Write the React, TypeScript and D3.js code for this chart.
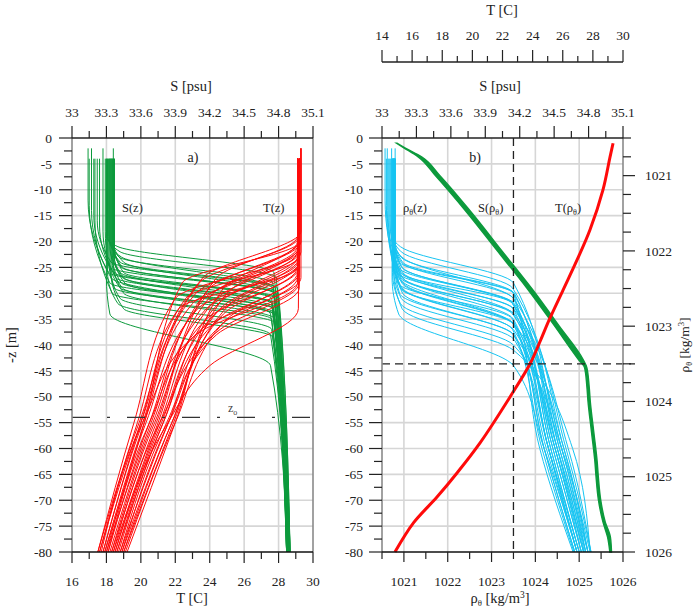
import React from "react";
import * as d3 from "d3";

const FONT = "'Liberation Serif', 'Times New Roman', Times, serif";
const GREEN = "#0c9a3c";
const RED = "#ff0a0a";
const CYAN = "#17c4f2";
const GRID = "#d6d6d6";
const AXIS_GRAY = "#8a8a8a";

// tick labels
const S_LABELS = [33, 33.3, 33.6, 33.9, 34.2, 34.5, 34.8, 35.1];
const T_LABELS_BOTTOM = [16, 18, 20, 22, 24, 26, 28, 30];
const T_LABELS_TOP = [14, 16, 18, 20, 22, 24, 26, 28, 30];
const RHO_LABELS = [1021, 1022, 1023, 1024, 1025, 1026];
const DEPTH_LABELS = [0, 5, 10, 15, 20, 25, 30, 35, 40, 45, 50, 55, 60, 65, 70, 75, 80];

const Z0 = 54; // z_o depth [m]
const RHO_REF = 1023.5; // reference density

// S(z) profiles: [dTop, S0, dMixedBottom, dKnee, SKnee, dHaloBottom, SHaloBottom, S80]
const S_PROFILES = [
  [2, 33.14, 12, 26, 33.32, 31, 34.74, 34.88],
  [4, 33.15, 13, 28, 33.33, 33, 34.75, 34.87],
  [2, 33.17, 14, 27, 33.34, 34, 34.73, 34.89],
  [4, 33.19, 15, 25, 33.33, 30, 34.76, 34.88],
  [4, 33.2, 16, 30, 33.35, 35, 34.74, 34.87],
  [4, 33.22, 16, 24, 33.34, 29, 34.75, 34.9],
  [4, 33.24, 17, 26, 33.36, 31, 34.77, 34.89],
  [2, 33.27, 18, 27, 33.38, 32, 34.74, 34.88],
  [4, 33.29, 18, 29, 33.37, 34, 34.76, 34.87],
  [4, 33.3, 19, 21, 33.4, 26, 34.76, 34.88],
  [4, 33.31, 19, 22, 33.42, 27, 34.78, 34.89],
  [4, 33.32, 19, 23, 33.41, 28, 34.75, 34.88],
  [4, 33.33, 20, 23, 33.43, 29, 34.77, 34.9],
  [4, 33.34, 20, 24, 33.42, 29, 34.79, 34.88],
  [4, 33.35, 20, 25, 33.44, 30, 34.76, 34.87],
  [4, 33.36, 21, 25, 33.43, 30, 34.78, 34.89],
  [4, 33.37, 21, 26, 33.45, 31, 34.8, 34.9],
  [4, 33.33, 21, 26, 33.42, 32, 34.75, 34.88],
  [4, 33.35, 22, 27, 33.44, 32, 34.77, 34.89],
  [4, 33.36, 22, 27, 33.45, 33, 34.79, 34.88],
  [4, 33.34, 22, 28, 33.43, 33, 34.76, 34.87],
  [4, 33.37, 23, 28, 33.46, 34, 34.78, 34.9],
  [4, 33.32, 23, 29, 33.42, 34, 34.75, 34.88],
  [4, 33.35, 24, 29, 33.44, 35, 34.77, 34.89],
  [4, 33.36, 24, 30, 33.45, 36, 34.79, 34.88],
  [4, 33.33, 25, 31, 33.42, 37, 34.74, 34.87],
  [4, 33.31, 26, 32, 33.4, 38, 34.73, 34.88],
  [4, 33.3, 27, 34, 33.33, 44, 34.73, 34.88],
  [4, 33.34, 26, 33, 33.45, 38.5, 34.75, 34.89],
  [2, 33.36, 20, 24, 33.45, 30, 34.8, 34.9],
];

// T(z) profiles: [dTop, T0, dMixedBottom, dThermoBottom, TThermoBottom, T55, T80]
const T_PROFILES = [
  [2, 29.3, 18, 27, 23.6, 20.0, 17.6],
  [4, 29.2, 19, 28, 23.4, 20.2, 17.9],
  [4, 29.2, 20, 29, 24.0, 20.6, 18.0],
  [2, 29.3, 20, 30, 23.2, 19.9, 17.5],
  [4, 29.1, 21, 30, 24.2, 20.9, 18.3],
  [4, 29.2, 21, 31, 23.7, 20.5, 18.1],
  [4, 29.1, 22, 31, 24.4, 21.1, 18.5],
  [4, 29.2, 22, 32, 23.0, 20.1, 17.8],
  [2, 29.3, 22, 32, 24.5, 21.3, 18.6],
  [4, 29.1, 23, 33, 23.8, 20.7, 18.2],
  [4, 29.2, 23, 33, 24.6, 21.6, 18.8],
  [4, 29.1, 24, 33, 23.3, 20.3, 18.0],
  [4, 29.2, 24, 34, 24.3, 21.2, 18.6],
  [4, 29.1, 25, 34, 24.8, 21.8, 19.0],
  [4, 29.2, 25, 35, 23.8, 20.8, 18.3],
  [4, 29.1, 26, 35, 25.0, 22.0, 19.1],
  [4, 29.2, 26, 36, 24.2, 21.3, 18.7],
  [4, 29.1, 27, 36, 24.7, 21.6, 18.9],
  [2, 29.3, 27, 37, 23.5, 20.5, 18.1],
  [4, 29.2, 28, 37, 24.6, 21.1, 18.4],
  [4, 29.1, 28, 38, 23.2, 20.1, 17.7],
  [4, 29.2, 29, 38, 24.4, 21.5, 18.8],
  [4, 29.1, 20, 29, 24.8, 22.0, 19.2],
  [4, 29.2, 21, 30, 25.0, 21.9, 19.0],
  [4, 29.2, 24, 32, 25.2, 21.8, 18.9],
  [4, 29.1, 19, 27, 24.4, 21.0, 18.4],
  [4, 29.2, 23, 31, 22.6, 20.0, 17.8],
  [4, 29.1, 25, 33, 22.2, 19.8, 17.6],
  [4, 29.2, 20, 28, 22.4, 20.2, 17.9],
  [4, 29.1, 22, 31, 22.0, 19.6, 17.5],
];
const T_OUTLIER = [[4, 29.2], [33, 29.15], [44, 24.0], [56, 21.4], [80, 18.5]];

// rho_theta(z) profiles: [dTop, r0, dMixedBottom, dKnee, rKnee, dHaloBottom, rHaloBottom, r60, r80]
const RHO_PROFILES = [
  [2, 1020.57, 12, 26, 1020.85, 33, 1023.5, 1024.3, 1024.95],
  [4, 1020.6, 13, 28, 1020.86, 35, 1023.48, 1024.2, 1024.9],
  [2, 1020.62, 14, 27, 1020.88, 36, 1023.52, 1024.45, 1025.05],
  [4, 1020.64, 15, 25, 1020.87, 32, 1023.5, 1024.35, 1025.0],
  [4, 1020.66, 16, 30, 1020.9, 38, 1023.5, 1024.25, 1024.95],
  [4, 1020.68, 16, 24, 1020.9, 30, 1023.5, 1024.5, 1025.1],
  [4, 1020.7, 17, 26, 1020.92, 32, 1023.48, 1024.4, 1025.05],
  [2, 1020.72, 18, 27, 1020.93, 34, 1023.52, 1024.6, 1025.15],
  [4, 1020.73, 18, 29, 1020.92, 36, 1023.5, 1024.3, 1024.95],
  [4, 1020.74, 19, 21, 1020.92, 28, 1023.5, 1024.55, 1025.2],
  [4, 1020.75, 19, 22, 1020.94, 29, 1023.48, 1024.65, 1025.25],
  [4, 1020.76, 19, 23, 1020.93, 30, 1023.52, 1024.45, 1025.1],
  [4, 1020.77, 20, 23, 1020.95, 31, 1023.5, 1024.7, 1025.27],
  [4, 1020.78, 20, 24, 1020.94, 31, 1023.5, 1024.35, 1025.0],
  [4, 1020.79, 20, 25, 1020.96, 32, 1023.48, 1024.6, 1025.2],
  [4, 1020.8, 21, 25, 1020.95, 32, 1023.52, 1024.5, 1025.15],
  [4, 1020.8, 21, 26, 1020.97, 33, 1023.5, 1024.75, 1025.27],
  [4, 1020.76, 21, 26, 1020.94, 34, 1023.5, 1024.4, 1025.05],
  [4, 1020.78, 22, 27, 1020.96, 34, 1023.48, 1024.55, 1025.15],
  [4, 1020.79, 22, 27, 1020.97, 35, 1023.5, 1024.3, 1024.95],
  [4, 1020.77, 22, 28, 1020.95, 36, 1023.52, 1024.65, 1025.2],
  [4, 1020.8, 23, 28, 1020.98, 36, 1023.5, 1024.2, 1024.9],
  [4, 1020.75, 23, 29, 1020.94, 37, 1023.5, 1024.45, 1025.1],
  [4, 1020.78, 24, 29, 1020.96, 37, 1023.48, 1024.15, 1024.88],
  [4, 1020.79, 24, 30, 1020.97, 38, 1023.5, 1024.5, 1025.12],
  [4, 1020.76, 25, 31, 1020.94, 39, 1023.52, 1024.3, 1025.0],
  [4, 1020.74, 26, 32, 1020.92, 40, 1023.5, 1024.6, 1025.2],
  [4, 1020.73, 27, 34, 1020.88, 44, 1023.5, 1024.2, 1024.95],
  [4, 1020.77, 26, 33, 1020.96, 41, 1023.5, 1024.85, 1025.25],
  [2, 1020.8, 20, 24, 1020.97, 30, 1023.5, 1024.1, 1024.86],
];

// S(rho_theta): band between low/high salinity at given density
const SR_RHO = [1020.57, 1020.63, 1020.75, 1021.0, 1021.5, 1022.0, 1022.5, 1023.0, 1023.45, 1023.55, 1023.8, 1024.0, 1024.4, 1024.8, 1025.0, 1025.3, 1025.6, 1025.8, 1026.0];
const SR_LO = [33.127, 33.19, 33.315, 33.465, 33.745, 34.005, 34.265, 34.505, 34.715, 34.765, 34.785, 34.795, 34.825, 34.855, 34.865, 34.885, 34.925, 34.965, 34.985];
const SR_HI = [33.133, 33.2, 33.345, 33.505, 33.785, 34.045, 34.305, 34.545, 34.755, 34.785, 34.805, 34.815, 34.845, 34.875, 34.885, 34.905, 34.945, 34.99, 35.0];

// T(rho_theta)
const TR_RHO = [1020.57, 1020.75, 1021.19, 1021.72, 1022.12, 1022.52, 1022.92, 1023.2, 1023.5, 1023.94, 1024.55, 1024.95, 1025.27, 1025.61, 1026.0];
const TR_T = [29.34, 29.14, 28.67, 27.81, 26.95, 26.02, 25.09, 24.5, 23.83, 22.5, 20.51, 18.98, 17.65, 16.1, 14.86];

// layout
const Y0 = 138, Y1 = 552;
const AX0 = 72, AX1 = 313;
const BX0 = 382, BX1 = 623;

const yZ = d3.scaleLinear().domain([0, 80]).range([Y0, Y1]);
const xTa = d3.scaleLinear().domain([16, 30]).range([AX0, AX1]);
const xSa = d3.scaleLinear().domain([33, 35.1]).range([AX0, AX1]);
const xSb = d3.scaleLinear().domain([33, 35.1]).range([BX0, BX1]);
const xTb = d3.scaleLinear().domain([14, 30]).range([BX0, BX1]);
const xRb = d3.scaleLinear().domain([1020.5, 1026]).range([BX0, BX1]);
const yRb = d3.scaleLinear().domain([1020.5, 1026]).range([Y0, Y1]);

const TICK_FS = 13.5;
const TITLE_FS = 14.5;

function RhoLabel({ x, y, size, anchor = "start", transform }: any) {
  return (
    <text x={x} y={y} fontSize={size} textAnchor={anchor} transform={transform}>
      ρ<tspan fontSize={size * 0.6} dy={3}>θ</tspan>
      <tspan dy={-3}> [kg/m</tspan>
      <tspan fontSize={size * 0.65} dy={-5}>3</tspan>
      <tspan dy={5}>]</tspan>
    </text>
  );
}

export default function App() {
  const lineA = (xs: any) =>
    d3.line<number[]>().x((p) => xs(p[1])).y((p) => yZ(p[0])).curve(d3.curveMonotoneY);
  const sLine = lineA(xSa);
  const tLine = lineA(xTa);
  const rLine = lineA(xRb);

  const sPaths = S_PROFILES.map((r) => {
    const [dt, s0, dA, dK, sK, dE, sE, s80] = r;
    return [[dt, s0], [dA, s0], [dK, sK], [dE, sE], [80, s80]];
  });
  const tPaths = T_PROFILES.map((r) => {
    const [dt, t0, dA, dB, tB, t55, t80] = r;
    return [[dt, t0], [dA, t0], [dB, tB], [55, t55], [80, t80]];
  });
  tPaths.push(T_OUTLIER);
  const rPaths = RHO_PROFILES.map((r) => {
    const [dt, r0, dA, dK, rK, dE, rE, r60, r80] = r;
    return [[dt, r0], [dA, r0], [dK, rK], [dE, rE], [60, r60], [80, r80]];
  });

  const srArea = d3
    .area<number>()
    .y((_, i) => yRb(SR_RHO[i]))
    .x0((_, i) => xSb(SR_LO[i]))
    .x1((_, i) => xSb(SR_HI[i]))
    .curve(d3.curveMonotoneY)(SR_RHO);
  const trLine = d3
    .line<number>()
    .x((_, i) => xTb(TR_T[i]))
    .y((_, i) => yRb(TR_RHO[i]))
    .curve(d3.curveCatmullRom)(TR_RHO);

  const depthTicks = d3.range(0, 80.01, 2.5);
  const sTicks = d3.range(0, 15).map((i) => ({ v: 33 + 0.15 * i, major: i % 2 === 0 }));
  const tBottomTicks = d3.range(16, 31).map((v) => ({ v, major: v % 2 === 0 }));
  const tTopTicks = d3.range(14, 31).map((v) => ({ v, major: v % 2 === 0 }));
  const rhoBottomTicks = d3.range(0, 12).map((i) => ({ v: 1020.5 + 0.5 * i, major: i % 2 === 1 }));
  const rhoRightTicks = d3.range(0, 23).map((i) => ({ v: 1020.5 + 0.25 * i, major: (i - 2) % 4 === 0 }));
  const gridDepths = d3.range(5, 80, 5);

  const depthAxis = (x0: number, labelX: number) => (
    <g>
      <line x1={x0} x2={x0} y1={Y0} y2={Y1} stroke={AXIS_GRAY} strokeWidth={1.6} />
      {depthTicks.map((d) => {
        const major = d % 5 === 0;
        return (
          <line key={d} x1={x0 - (major ? 13 : 8)} x2={x0} y1={yZ(d)} y2={yZ(d)} stroke="#222" strokeWidth={1.2} />
        );
      })}
      {DEPTH_LABELS.map((d) => (
        <text key={d} x={labelX} y={yZ(d)} dy="0.35em" fontSize={TICK_FS} textAnchor="end">
          {d === 0 ? "0" : "-" + d}
        </text>
      ))}
    </g>
  );

  const sAxis = (xs: any) => (
    <g>
      <line x1={xs.range()[0]} x2={xs.range()[1]} y1={Y0} y2={Y0} stroke="#222" strokeWidth={1.3} />
      {sTicks.map((t, i) => (
        <line key={i} x1={xs(t.v)} x2={xs(t.v)} y1={Y0} y2={Y0 - (t.major ? 12 : 7)} stroke="#222" strokeWidth={1.2} />
      ))}
      {S_LABELS.map((v) => (
        <text key={v} x={xs(v)} y={117} fontSize={TICK_FS} textAnchor="middle">
          {v}
        </text>
      ))}
    </g>
  );

  return (
    <svg
      width={694}
      height={616}
      style={{ position: "absolute", left: 0, top: 0, background: "#fff", fontFamily: FONT }}
      fill="#222"
    >
      <rect width={694} height={616} fill="#fff" />
      {/* grids */}
      <g stroke={GRID} strokeWidth={1.6}>
        {[18, 20, 22, 24, 26, 28].map((t) => (
          <line key={"ga" + t} x1={xTa(t)} x2={xTa(t)} y1={Y0} y2={Y1} />
        ))}
        {[1021, 1022, 1023, 1024, 1025].map((r) => (
          <line key={"gb" + r} x1={xRb(r)} x2={xRb(r)} y1={Y0} y2={Y1} />
        ))}
        {gridDepths.map((d) => (
          <g key={"gd" + d}>
            <line x1={AX0} x2={AX1} y1={yZ(d)} y2={yZ(d)} />
            <line x1={BX0} x2={BX1} y1={yZ(d)} y2={yZ(d)} />
          </g>
        ))}
      </g>

      {/* panel a */}
      <g fill="none" strokeWidth={1}>
        {sPaths.map((p, i) => (
          <path key={"s" + i} d={sLine(p as any) || ""} stroke={GREEN} />
        ))}
        {tPaths.map((p, i) => (
          <path key={"t" + i} d={tLine(p as any) || ""} stroke={RED} />
        ))}
      </g>

      {/* panel b */}
      <g fill="none" strokeWidth={1}>
        {rPaths.map((p, i) => (
          <path key={"r" + i} d={rLine(p as any) || ""} stroke={CYAN} />
        ))}
      </g>
      <path d={srArea || ""} fill={GREEN} stroke={GREEN} strokeWidth={1.4} />
      <path d={trLine || ""} fill="none" stroke={RED} strokeWidth={3} />

      {/* dashed reference lines */}
      <line x1={AX0} x2={AX1} y1={yZ(Z0)} y2={yZ(Z0)} stroke="#333" strokeWidth={1.3} strokeDasharray="18 17 3 17" />
      <text x={228} y={yZ(Z0) - 5} fontSize={12} fill="#444">
        z<tspan fontSize={8} dy={3}>o</tspan>
      </text>
      <line x1={xRb(RHO_REF)} x2={xRb(RHO_REF)} y1={Y0} y2={Y1} stroke="#222" strokeWidth={1.3} strokeDasharray="8 5" />
      <line x1={BX0} x2={BX1 + 12} y1={yRb(RHO_REF)} y2={yRb(RHO_REF)} stroke="#222" strokeWidth={1.3} strokeDasharray="8 5" />

      {/* panel a axes */}
      <line x1={AX1} x2={AX1} y1={Y0} y2={Y1} stroke={AXIS_GRAY} strokeWidth={1.6} />
      {depthAxis(AX0, 52)}
      {sAxis(xSa)}
      <line x1={AX0} x2={AX1} y1={Y1} y2={Y1} stroke="#111" strokeWidth={1.3} />
      {tBottomTicks.map((t) => (
        <line key={t.v} x1={xTa(t.v)} x2={xTa(t.v)} y1={Y1} y2={Y1 + (t.major ? 11 : 7)} stroke="#222" strokeWidth={1.2} />
      ))}
      {T_LABELS_BOTTOM.map((v) => (
        <text key={v} x={xTa(v)} y={586} fontSize={TICK_FS} textAnchor="middle">
          {v}
        </text>
      ))}
      <text x={191} y={91} fontSize={TITLE_FS} textAnchor="middle">S [psu]</text>
      <text x={192} y={603} fontSize={TITLE_FS} textAnchor="middle">T [C]</text>
      <text transform="translate(16,345) rotate(-90)" fontSize={TITLE_FS} textAnchor="middle">-z [m]</text>
      <text x={193} y={162} fontSize={14} textAnchor="middle">a)</text>
      <text x={122} y={212} fontSize={12.5}>S(z)</text>
      <text x={263} y={212} fontSize={12.5}>T(z)</text>

      {/* panel b axes */}
      <line x1={BX1} x2={BX1} y1={Y0} y2={Y1} stroke={AXIS_GRAY} strokeWidth={1.6} />
      {depthAxis(BX0, 363)}
      {sAxis(xSb)}
      <line x1={BX0} x2={BX1} y1={Y1} y2={Y1} stroke="#111" strokeWidth={1.3} />
      {rhoBottomTicks.map((t, i) => (
        <line key={i} x1={xRb(t.v)} x2={xRb(t.v)} y1={Y1} y2={Y1 + (t.major ? 10 : 7)} stroke="#222" strokeWidth={1.2} />
      ))}
      {RHO_LABELS.map((v) => (
        <text key={v} x={xRb(v)} y={586} fontSize={TICK_FS} textAnchor="middle">
          {v}
        </text>
      ))}
      {rhoRightTicks.map((t, i) => (
        <line key={i} x1={BX1} x2={BX1 + (t.major ? 12 : 8)} y1={yRb(t.v)} y2={yRb(t.v)} stroke="#222" strokeWidth={1.2} />
      ))}
      {RHO_LABELS.map((v) => (
        <text key={v} x={645} y={yRb(v)} dy="0.35em" fontSize={TICK_FS}>
          {v}
        </text>
      ))}
      {/* top T axis */}
      <line x1={BX0} x2={BX1} y1={62} y2={62} stroke="#222" strokeWidth={1.3} />
      {tTopTicks.map((t) => (
        <line key={t.v} x1={xTb(t.v)} x2={xTb(t.v)} y1={62} y2={62 - (t.major ? 12 : 6)} stroke="#222" strokeWidth={1.2} />
      ))}
      {T_LABELS_TOP.map((v) => (
        <text key={v} x={xTb(v)} y={40} fontSize={TICK_FS} textAnchor="middle">
          {v}
        </text>
      ))}
      <text x={502} y={15} fontSize={TITLE_FS} textAnchor="middle">T [C]</text>
      <text x={500} y={91} fontSize={TITLE_FS} textAnchor="middle">S  [psu]</text>
      <RhoLabel x={500} y={603} size={TITLE_FS} anchor="middle" />
      <RhoLabel x={0} y={0} size={13.5} anchor="middle" transform="translate(689,345) rotate(-90)" />
      <text x={475} y={162} fontSize={14} textAnchor="middle">b)</text>
      <text x={403} y={212} fontSize={12.5}>
        ρ<tspan fontSize={8} dy={3}>θ</tspan>
        <tspan dy={-3}>(z)</tspan>
      </text>
      <text x={478} y={212} fontSize={12.5}>
        S(ρ<tspan fontSize={8} dy={3}>θ</tspan>
        <tspan dy={-3}>)</tspan>
      </text>
      <text x={555} y={212} fontSize={12.5}>
        T(ρ<tspan fontSize={8} dy={3}>θ</tspan>
        <tspan dy={-3}>)</tspan>
      </text>
    </svg>
  );
}
